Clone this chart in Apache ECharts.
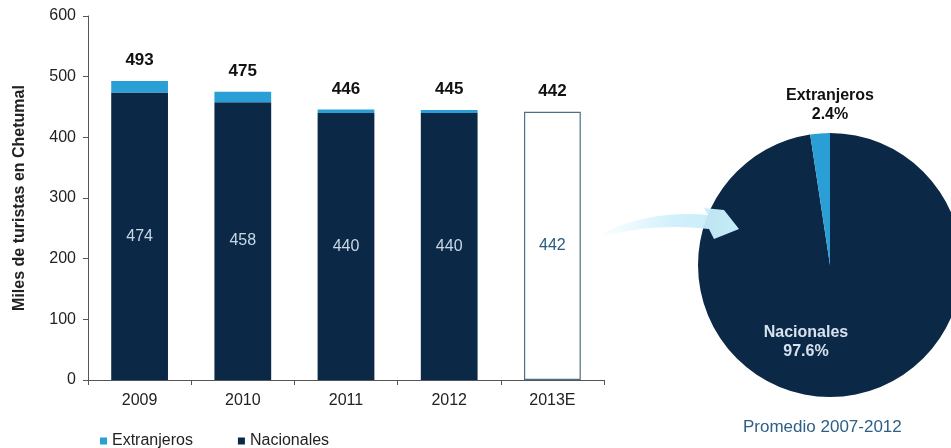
<!DOCTYPE html>
<html>
<head>
<meta charset="utf-8">
<script src="https://cdn.jsdelivr.net/npm/echarts@6/dist/echarts.min.js"></script>
<style>
  html, body { margin: 0; padding: 0; background: #ffffff; }
  #chart { width: 951px; height: 448px; }
</style>
</head>
<body>
<div id="chart"></div>
<script>
// Turistas en Chetumal (miles) por año
const years = ['2009', '2010', '2011', '2012', '2013E'];
const nacionales = [474, 458, 440, 440, 442];
const extranjeros = [19, 17, 6, 5, null];
const totales = [493, 475, 446, 445, 442];
const yTicks = [0, 100, 200, 300, 400, 500, 600];

// Participación promedio 2007-2012 (%)
const pieNames = ['Nacionales', 'Extranjeros'];
const pieShares = [97.6, 2.4];

const NAVY = '#0b2946';
const SKY = '#2a9fd6';
const FONT = '"Liberation Sans", Arial, sans-serif';

const estimadoIdx = years.length - 1;

// Curved pointer from the bars towards the pie
echarts.graphic.registerShape('curvedArrow', echarts.graphic.extendPath(
  'M603,233 Q650,210 708,215 L704,208 L724,210 L739,229 L714,239 L709,229 Q655,223 603,236 Z', {}
));

const nacData = nacionales.map((v, i) => i === estimadoIdx
  ? { value: v, itemStyle: { color: '#ffffff', borderColor: '#4d6f8a', borderWidth: 1.2 },
      label: { color: '#2b5c7e' } }
  : v);

const chart = echarts.init(document.getElementById('chart'), null, { renderer: 'canvas' });

chart.setOption({
  animation: false,
  textStyle: { fontFamily: FONT },
  grid: { left: 88, top: 16, right: 347, bottom: 68 },
  legend: {
    data: ['Extranjeros', 'Nacionales'],
    left: 95, top: 428,
    icon: 'rect', itemWidth: 7, itemHeight: 7, itemGap: 45,
    textStyle: { fontSize: 16, color: '#222', fontFamily: FONT }
  },
  xAxis: {
    type: 'category',
    data: years,
    axisLine: { lineStyle: { color: '#555', width: 1 } },
    axisTick: { show: true, length: 5, lineStyle: { color: '#555' } },
    axisLabel: { fontSize: 16, color: '#222', margin: 13, fontFamily: FONT }
  },
  yAxis: {
    type: 'value',
    min: yTicks[0], max: yTicks[yTicks.length - 1], interval: 100,
    name: 'Miles de turistas en Chetumal',
    nameLocation: 'middle', nameGap: 60,
    nameTextStyle: { fontSize: 16, fontWeight: 'bold', color: '#222', fontFamily: FONT },
    axisLine: { show: true, lineStyle: { color: '#555' } },
    axisTick: { show: true, length: 5, lineStyle: { color: '#555' } },
    splitLine: { show: false },
    axisLabel: { fontSize: 16, color: '#222', margin: 12, fontFamily: FONT }
  },
  series: [
    {
      name: 'Nacionales', type: 'bar', stack: 'turistas', barWidth: '55%',
      itemStyle: { color: NAVY },
      label: { show: true, position: 'inside', fontSize: 16, color: '#c9d7e6', fontFamily: FONT },
      data: nacData
    },
    {
      name: 'Extranjeros', type: 'bar', stack: 'turistas', barWidth: '55%',
      itemStyle: { color: SKY },
      data: extranjeros
    },
    {
      name: 'Total', type: 'bar', barWidth: '55%', barGap: '-100%',
      itemStyle: { color: 'rgba(0,0,0,0)' },
      silent: true, z: 1,
      label: { show: true, position: 'top', distance: 12, fontSize: 17, fontWeight: 'bold',
               color: '#111', fontFamily: FONT },
      data: totales
    },
    {
      name: 'Promedio', type: 'pie',
      center: [830, 265], radius: 132,
      startAngle: 90, clockwise: true,
      color: [NAVY, SKY],
      label: {
        show: true, position: 'inside', formatter: '{b}\n{c}%',
        fontSize: 16, fontWeight: 'bold', lineHeight: 19, fontFamily: FONT
      },
      labelLine: { show: false },
      labelLayout: function (p) {
        if (p.dataIndex === 1) {
          return { x: 830, y: 105, align: 'center', verticalAlign: 'middle' };
        }
        return { x: 806, y: 342, align: 'center', verticalAlign: 'middle' };
      },
      data: pieNames.map((n, i) => ({
        name: n, value: pieShares[i],
        label: { color: i === 1 ? '#111' : '#d8e2ee' }
      }))
    }
  ],
  graphic: [
    {
      type: 'curvedArrow', z: 100,
      style: {
        fill: {
          type: 'linear', x: 0, y: 0, x2: 1, y2: 0,
          colorStops: [
            { offset: 0, color: 'rgba(220,244,252,0.2)' },
            { offset: 0.5, color: 'rgba(205,239,251,0.9)' },
            { offset: 1, color: '#c4ecf9' }
          ]
        }
      }
    },
    {
      type: 'text', left: 743, top: 419, z: 100,
      style: { text: 'Promedio 2007-2012', fill: '#2d5f86', font: '17px ' + FONT }
    }
  ]
});
</script>
</body>
</html>
